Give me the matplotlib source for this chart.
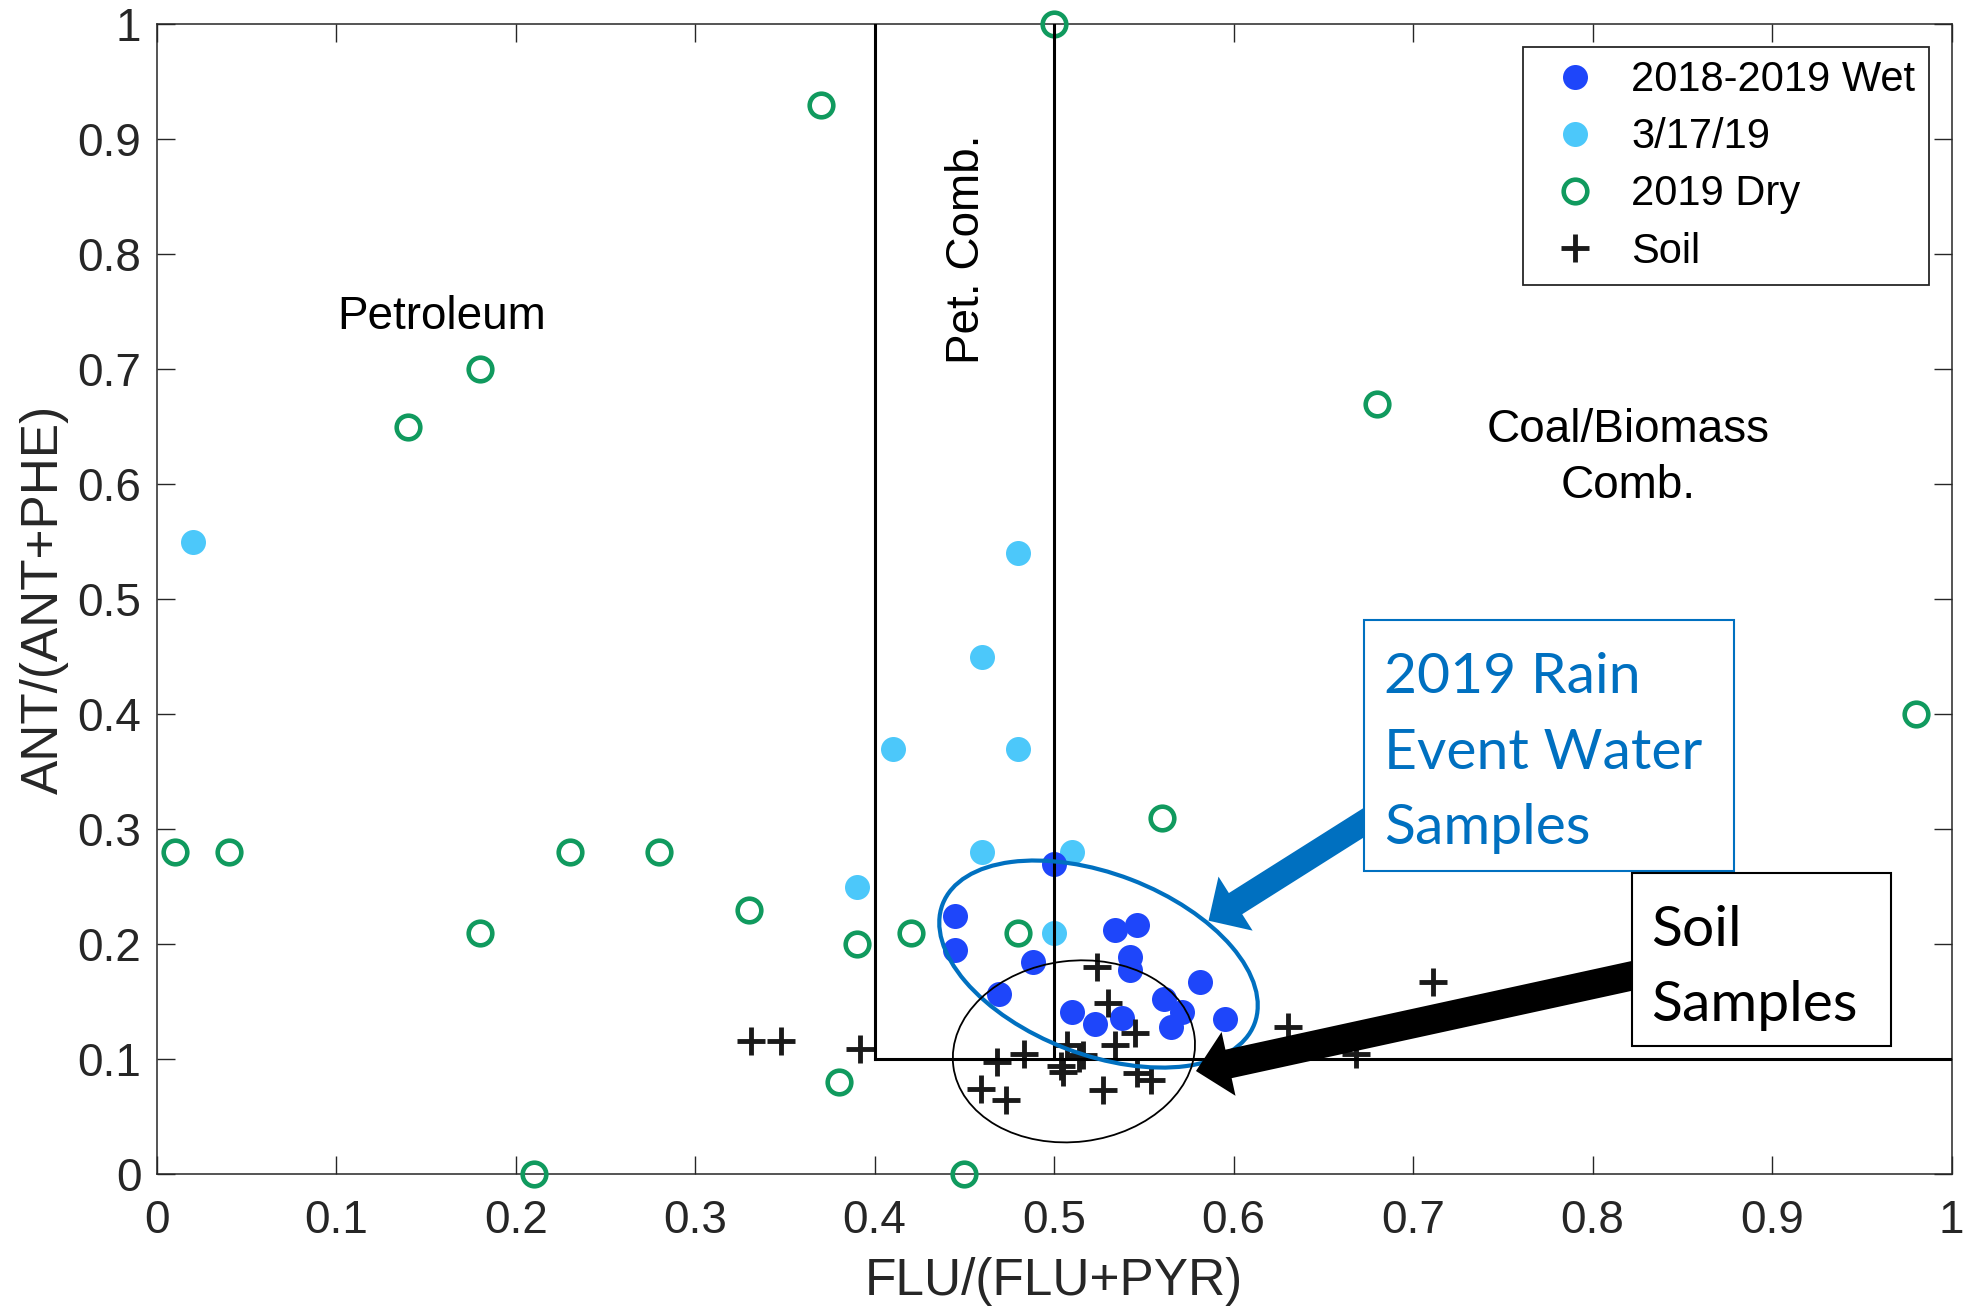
import matplotlib
matplotlib.use("Agg")
import matplotlib.pyplot as plt
from matplotlib.patches import Ellipse, Rectangle, FancyArrowPatch, ArrowStyle
from matplotlib.lines import Line2D
from matplotlib.transforms import ScaledTranslation

plt.rcParams['font.family'] = ['Liberation Sans', 'DejaVu Sans']

# ---------------- data ----------------
wet_x = [0.500, 0.445, 0.445, 0.488, 0.469, 0.534, 0.546, 0.542, 0.542, 0.581,
         0.510, 0.523, 0.538, 0.561, 0.571, 0.565, 0.595]
wet_y = [0.270, 0.225, 0.195, 0.185, 0.157, 0.212, 0.217, 0.189, 0.178, 0.167,
         0.141, 0.131, 0.136, 0.152, 0.141, 0.128, 0.135]

mar_x = [0.02, 0.48, 0.46, 0.41, 0.48, 0.46, 0.51, 0.39, 0.50]
mar_y = [0.55, 0.54, 0.45, 0.37, 0.37, 0.28, 0.28, 0.25, 0.21]

dry_x = [0.50, 0.37, 0.18, 0.14, 0.68, 0.98, 0.56, 0.01, 0.04, 0.23, 0.28,
         0.33, 0.18, 0.39, 0.42, 0.48, 0.38, 0.21, 0.45]
dry_y = [1.00, 0.93, 0.70, 0.65, 0.67, 0.40, 0.31, 0.28, 0.28, 0.28, 0.28,
         0.23, 0.21, 0.20, 0.21, 0.21, 0.08, 0.00, 0.00]

soil_x = [0.331, 0.348, 0.392, 0.524, 0.530, 0.545, 0.534, 0.507, 0.514, 0.504,
          0.505, 0.516, 0.483, 0.468, 0.459, 0.473, 0.527, 0.546, 0.554, 0.630,
          0.668, 0.711]
soil_y = [0.116, 0.116, 0.109, 0.180, 0.149, 0.123, 0.112, 0.112, 0.101, 0.094,
          0.089, 0.104, 0.105, 0.098, 0.074, 0.065, 0.073, 0.088, 0.082, 0.128,
          0.105, 0.167]

series_labels = ['2018-2019 Wet', '3/17/19', '2019 Dry', 'Soil']
tick_vals = [0, 0.1, 0.2, 0.3, 0.4, 0.5, 0.6, 0.7, 0.8, 0.9, 1]
tick_labels = ['0', '0.1', '0.2', '0.3', '0.4', '0.5', '0.6', '0.7', '0.8', '0.9', '1']

# ---------------- colors ----------------
c_wet = '#1E46FA'
c_mar = '#4CC8FA'
c_dry = '#109A5E'
c_soil = '#1a1a1a'
c_box = '#0070C0'
c_ax = '#262626'

fig = plt.figure(figsize=(19.64, 13.14), dpi=100)
ax = fig.add_axes([0.0798, 0.1063, 0.9139, 0.8754])

ax.plot(mar_x, mar_y, 'o', ms=18, color=c_mar, mec='none', zorder=3, label=series_labels[1])
ax.plot(wet_x, wet_y, 'o', ms=18, color=c_wet, mec='none', zorder=3.1, label=series_labels[0])
ax.plot(dry_x, dry_y, 'o', ms=17, mfc='none', mec=c_dry, mew=3.3, zorder=3.2,
        label=series_labels[2], clip_on=False)
ax.plot(soil_x, soil_y, '+', ms=20, color=c_soil, mew=3.5, zorder=3.3, label=series_labels[3])

# source region lines
ax.plot([0.4, 0.4], [0.1, 1.0], color='black', lw=2.2, zorder=4)
ax.plot([0.5, 0.5], [0.1, 1.0], color='black', lw=2.2, zorder=4)
ax.plot([0.4, 1.0], [0.1, 0.1], color='black', lw=2.2, zorder=4)

ax.set_xlim(0, 1)
ax.set_ylim(0, 1)
ax.set_xticks(tick_vals)
ax.set_xticklabels(tick_labels)
ax.set_yticks(tick_vals)
ax.set_yticklabels(tick_labels)
ax.tick_params(direction='in', top=True, right=True, length=13, width=1,
               labelsize=33, colors=c_ax, pad=11)
ax.tick_params(axis='x', pad=18)
for s in ax.spines.values():
    s.set_color(c_ax)
    s.set_linewidth(1.1)

ax.set_xlabel('FLU/(FLU+PYR)', fontsize=37, color=c_ax, labelpad=10)
ax.set_ylabel('ANT/(ANT+PHE)', fontsize=37, color=c_ax, labelpad=6)

# region labels
ax.text(0.159, 0.7455, 'Petroleum', fontsize=33, ha='center', va='center', color='black')
ax.text(0.4514, 0.804, 'Pet. Comb.', fontsize=33, ha='center', va='center', rotation=90, color='black')
ax.text(0.8196, 0.6227, 'Coal/Biomass\nComb.', fontsize=33, ha='center', va='center',
        multialignment='center', linespacing=1.35, color='black')

# ellipses (sizes in inches, centred on data points)
def px_ellipse(cx, cy, w_px, h_px, ang, color, lw):
    tr = fig.dpi_scale_trans + ScaledTranslation(cx, cy, ax.transData)
    e = Ellipse((0, 0), w_px / 100, h_px / 100, angle=ang, fill=False,
                edgecolor=color, lw=lw, transform=tr, zorder=5)
    ax.add_patch(e)

px_ellipse(0.5247, 0.1828, 334, 181, -21, c_box, 3)
px_ellipse(0.511, 0.1069, 243, 181, 7, 'black', 1.3)

# arrows
blue_arrow = FancyArrowPatch((0.69, 0.323), (0.586, 0.2205),
                             arrowstyle=ArrowStyle.Simple(head_length=23, head_width=46, tail_width=18),
                             mutation_scale=1, color=c_box, lw=0, shrinkA=0, shrinkB=0, zorder=6)
ax.add_patch(blue_arrow)
black_arrow = FancyArrowPatch((0.835, 0.177), (0.579, 0.0898),
                              arrowstyle=ArrowStyle.Simple(head_length=24, head_width=47, tail_width=21),
                              mutation_scale=1, color='black', lw=0, shrinkA=0, shrinkB=0, zorder=6)
ax.add_patch(black_arrow)

# annotation boxes
ax.add_patch(Rectangle((0.6726, 0.2637), 0.2061, 0.2182, facecolor='white',
                       edgecolor=c_box, lw=1.5, zorder=7))
ax.add_patch(Rectangle((0.8217, 0.1116), 0.1443, 0.1504, facecolor='white',
                       edgecolor='black', lw=1.5, zorder=7))
box_font = ['Lato', 'DejaVu Sans']
for txt, yy in [('2019 Rain', 0.4187), ('Event Water', 0.352), ('Samples', 0.287)]:
    ax.text(0.6838, yy, txt, fontsize=41, family=box_font, color=c_box,
            ha='left', va='baseline', zorder=8)
for txt, yy in [('Soil', 0.1987), ('Samples', 0.1334)]:
    ax.text(0.8325, yy, txt, fontsize=41, family=box_font, color='black',
            ha='left', va='baseline', zorder=8)

# legend
handles = [
    Line2D([], [], ls='none', marker='o', ms=18, color=c_wet, mec='none'),
    Line2D([], [], ls='none', marker='o', ms=18, color=c_mar, mec='none'),
    Line2D([], [], ls='none', marker='o', ms=17, mfc='none', mec=c_dry, mew=3.3),
    Line2D([], [], ls='none', marker='+', ms=20, color=c_soil, mew=3.5),
]
leg = ax.legend(handles, series_labels, loc='upper right', fontsize=30, frameon=True,
                fancybox=False, framealpha=1, edgecolor=c_ax, borderaxespad=0.55,
                handlelength=1.84, handletextpad=0.43, borderpad=0.32, labelspacing=0.41)
leg.get_frame().set_linewidth(1.3)
leg.set_zorder(9)

fig.savefig('out.png', dpi=100)
